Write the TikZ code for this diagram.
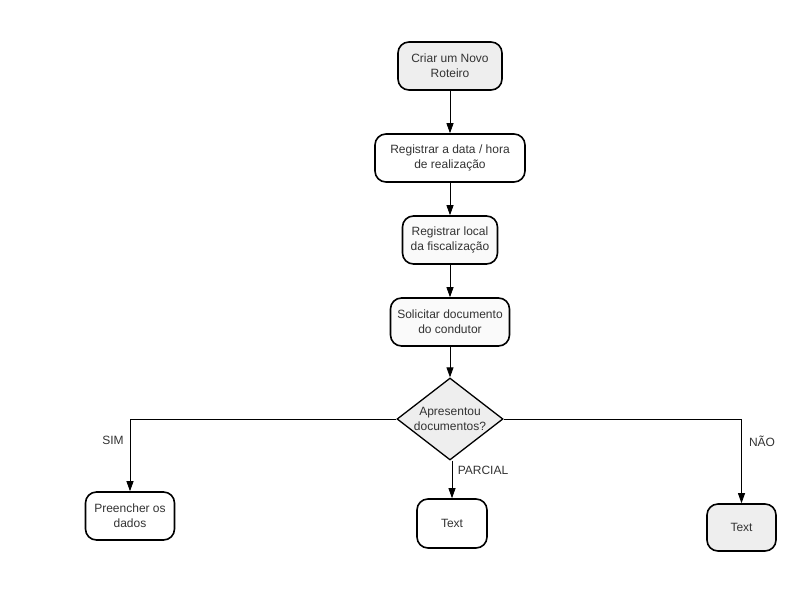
\documentclass[tikz,border=0pt]{standalone}
\usepackage{fontspec}
\setmainfont{Liberation Sans}
\usetikzlibrary{shapes.geometric,arrows.meta}
\definecolor{txt}{HTML}{333333}
\definecolor{fillg}{HTML}{EEEEEE}
\definecolor{fillw}{HTML}{FAFAFA}
\tikzset{
  box/.style={draw=black, line width=1.6pt, rounded corners=11pt, align=center, inner sep=0pt,
    font=\fontsize{12}{15}\selectfont, text=txt, fill=fillw},
  grey/.style={fill=fillg},
  dec/.style={draw=black, line width=1.3pt, diamond, aspect=1.3, inner sep=0pt,
    minimum width=106pt, minimum height=82pt, align=center, fill=fillg,
    font=\fontsize{12}{15}\selectfont, text=txt},
  conn/.style={draw=black, line width=0.8pt, -{Triangle[length=10pt,width=7pt]}},
  lbl/.style={font=\fontsize{12}{14}\selectfont, text=txt, inner sep=0pt}
}
\begin{document}
\begin{tikzpicture}[x=1pt,y=-1pt]
\path[use as bounding box, fill=white] (0,0) rectangle (800,600);
\node[box, grey, minimum width=104pt, minimum height=48pt] (n1) at (450,66) {Criar um Novo\\Roteiro};
\node[box, fill=white, minimum width=150pt, minimum height=48pt] (n2) at (450,158) {Registrar a data / hora\\de realização};
\node[box, minimum width=95pt, minimum height=48pt] (n3) at (450,240) {Registrar local\\da fiscalização};
\node[box, minimum width=119pt, minimum height=48pt] (n4) at (450,322) {Solicitar documento\\do condutor};
\node[dec] (d) at (450,419) {Apresentou\\documentos?};
\node[box, fill=white, minimum width=89pt, minimum height=48pt] (p) at (130,516) {Preencher os\\dados};
\node[box, fill=white, minimum width=70pt, minimum height=49pt] (t) at (452,523.5) {Text};
\node[box, grey, minimum width=69pt, minimum height=47pt] (nn) at (741.5,527.5) {Text};
\draw[conn] (n1) -- (n2);
\draw[conn] (n2) -- (n3);
\draw[conn] (n3) -- (n4);
\draw[conn] (n4) -- (d);
\draw[conn] (d.west) -| (p.north);
\draw[conn] (t.north |- d.south) -- (t.north);
\draw[conn] (d.east) -| (nn.north);
\node[lbl] (ls) at (113,440) {SIM};
\node[lbl] (lp) at (483,470) {PARCIAL};
\node[lbl] (ln) at (762,441) {NÃO};
\end{tikzpicture}
\end{document}
